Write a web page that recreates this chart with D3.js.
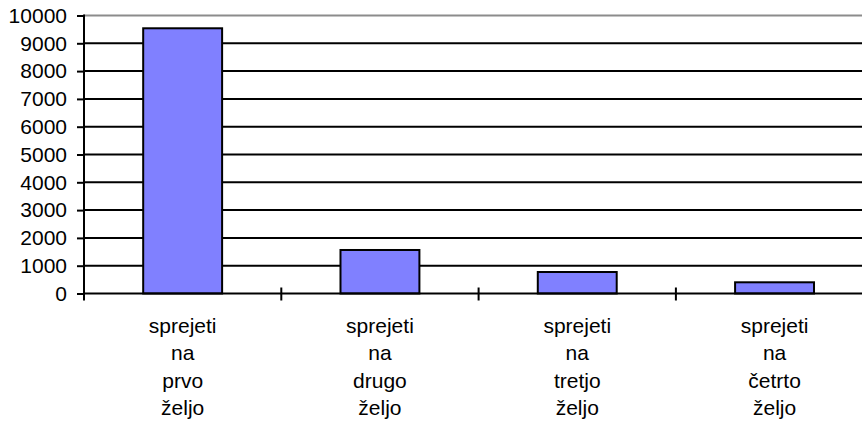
<!DOCTYPE html>
<html>
<head>
<meta charset="utf-8">
<script src="https://cdn.jsdelivr.net/npm/d3@7"></script>
<style>
html,body{margin:0;padding:0;background:#fff;}
svg{display:block;}
text{font-family:"Liberation Sans",Arial,sans-serif;fill:#000;}
</style>
</head>
<body>
<svg id="chart" width="862" height="421"></svg>
<script>
const categories = [
  ["sprejeti","na","prvo","željo"],
  ["sprejeti","na","drugo","željo"],
  ["sprejeti","na","tretjo","željo"],
  ["sprejeti","na","četrto","željo"]
];
const values = [9540, 1565, 773, 403];
const yTicks = [0,1000,2000,3000,4000,5000,6000,7000,8000,9000,10000];

(function () {
const svg = d3.select("#chart");
const mLeft = 84, mTop = 15.5, mBottom = 293.5, step = 197.3;
const mRight = mLeft + step * categories.length;

const x = d3.scaleBand()
  .domain(d3.range(categories.length))
  .range([mLeft, mRight])
  .paddingInner(0.6)
  .paddingOuter(0.3);
const y = d3.scaleLinear().domain([0, 10000]).range([mBottom, mTop]);

// gridlines
svg.append("g").selectAll("line")
  .data(yTicks.filter(d => d > 0))
  .join("line")
  .attr("x1", mLeft).attr("x2", mRight)
  .attr("y1", d => y(d)).attr("y2", d => y(d))
  .attr("stroke", d => d === 10000 ? "#8c8c8c" : "#000")
  .attr("stroke-width", 2);

// bars
svg.append("g").selectAll("rect")
  .data(values)
  .join("rect")
  .attr("x", (d, i) => x(i))
  .attr("width", x.bandwidth())
  .attr("y", d => y(d))
  .attr("height", d => y(0) - y(d))
  .attr("fill", "#8080ff")
  .attr("stroke", "#000")
  .attr("stroke-width", 2);

// y axis
const yAxis = d3.axisLeft(y).tickValues(yTicks).tickSize(7).tickPadding(10).tickFormat(d3.format("d"));
const gy = svg.append("g").attr("transform", `translate(${mLeft},0)`).call(yAxis);
gy.attr("font-size", null).attr("font-family", null);
gy.select(".domain").remove();
gy.selectAll(".tick line").attr("stroke", "#000").attr("stroke-width", 2).attr("x2", -7).attr("x1", 1);
gy.selectAll(".tick text").style("font-size", "21px").attr("fill", "#000");
svg.append("line").attr("x1", mLeft).attr("x2", mLeft).attr("y1", mTop - 1).attr("y2", mBottom + 7)
  .attr("stroke", "#000").attr("stroke-width", 2);

// x axis line
svg.append("line").attr("x1", mLeft).attr("x2", mRight).attr("y1", mBottom).attr("y2", mBottom)
  .attr("stroke", "#000").attr("stroke-width", 2);
// category ticks at band boundaries
svg.append("g").selectAll("line")
  .data(d3.range(1, categories.length + 1))
  .join("line")
  .attr("x1", i => mLeft + i * x.step()).attr("x2", i => mLeft + i * x.step())
  .attr("y1", mBottom - 6).attr("y2", mBottom + 7)
  .attr("stroke", "#000").attr("stroke-width", 2);

// category labels
const lab = svg.append("g").selectAll("text")
  .data(categories)
  .join("text")
  .attr("text-anchor", "middle")
  .style("font-size", "21px")
  .attr("transform", (d, i) => `translate(${x(i) + x.bandwidth() / 2},333)`);
lab.selectAll("tspan")
  .data(d => d)
  .join("tspan")
  .attr("x", 0)
  .attr("y", (d, j) => j * 27.4)
  .text(d => d);
})();
</script>
</body>
</html>
